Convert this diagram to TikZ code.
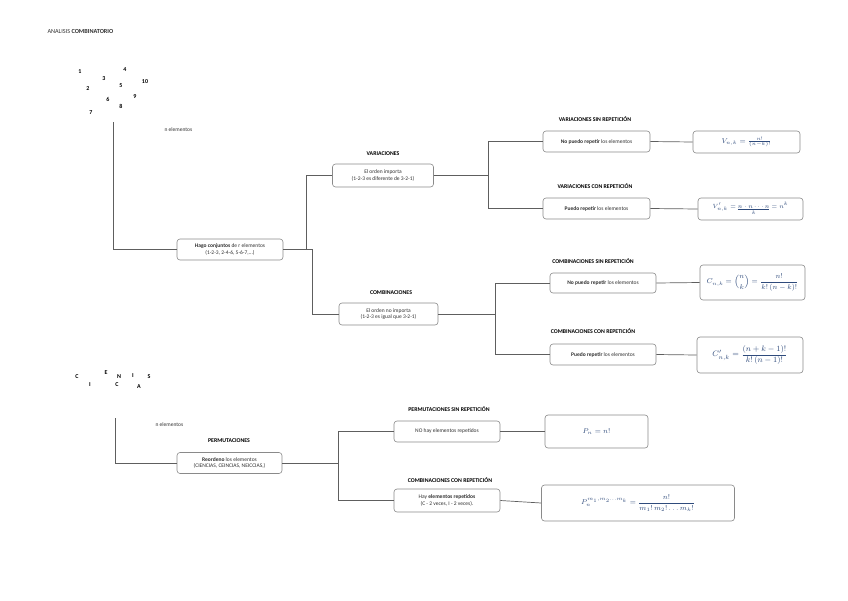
\documentclass[tikz,border=0pt]{standalone}
\usepackage[no-math]{fontspec}
\setmainfont{Carlito}
\usepackage{amsmath}
\usepackage{tikz}
\usetikzlibrary{positioning}
\definecolor{linea}{HTML}{5E5E5E}
\definecolor{borde}{HTML}{8A8A8A}
\definecolor{formula}{HTML}{2F4B7C}
\definecolor{texto}{HTML}{303030}

\begin{document}
\begin{tikzpicture}[x=1pt, y=-1pt, font=\fontsize{5.5}{6.6}\selectfont, text=texto,
  caja/.style={draw=borde, line width=0.6pt, rounded corners=3pt, fill=white, align=center, inner sep=1pt, minimum width=106pt, minimum height=21pt},
  form/.style={caja, text=formula, font=\fontsize{7.5}{9}\selectfont},
  rotulo/.style={font=\fontsize{5.8}{7}\selectfont\bfseries, text=black},
  cifra/.style={font=\fontsize{6}{7}\selectfont\bfseries, text=black},
  conector/.style={draw=linea, line width=0.7pt}]
  \useasboundingbox (0,0) rectangle (848,600);

  % Titulo
  \node[anchor=west, font=\fontsize{6.2}{7}\selectfont] (titulo) at (44,31) {ANALISIS \textbf{COMBINATORIO}};

  % Elementos sueltos
  \node[cifra] (c1) at (80,72) {1};
  \node[cifra] (c4) at (125,70) {4};
  \node[cifra] (c3) at (104,79) {3};
  \node[cifra] (c10) at (145,82) {10};
  \node[cifra] (c2) at (88,89) {2};
  \node[cifra] (c5) at (121,86) {5};
  \node[cifra] (c9) at (135,97) {9};
  \node[cifra] (c6) at (108,99) {6};
  \node[cifra] (c8) at (121,106) {8};
  \node[cifra] (c7) at (91,113) {7};
  \node[anchor=west] (nelem) at (161,130) {n elementos};
  \coordinate (inicio) at (113,122);

  % Hago conjuntos
  \node[caja] (hago) at (230,249.5) {{\bfseries Hago conjuntos} de r elementos\\(1-2-3, 2-4-6, 5-6-7,...)};
  \draw[conector] (inicio) |- (hago.west);

  % Variaciones
  \node[caja, minimum width=101pt, minimum height=23pt] (var) at (383,175.5) {El orden importa\\(1-2-3 es diferente de 3-2-1)};
  \node[rotulo] (varrot) at (383,154) {VARIACIONES};
  \coordinate (rama1) at (306,249.5);
  \draw[conector] (hago.east) -- (rama1) |- (var.west);

  % Combinaciones
  \node[caja, minimum width=99pt, minimum height=22pt] (comb) at (388.5,314) {El orden no importa\\(1-2-3 es igual que 3-2-1)};
  \node[rotulo] (combrot) at (391,293) {COMBINACIONES};
  \coordinate (rama2) at (312,249.5);
  \draw[conector] (hago.east) -- (rama2) |- (comb.west);

  % Variaciones sin / con repeticion
  \node[caja, minimum width=107pt] (vsr) at (596.5,141.5) {{\bfseries No puedo repetir} los elementos};
  \node[rotulo] (vsrrot) at (595,119) {VARIACIONES SIN REPETICIÓN};
  \node[form, minimum width=107pt, minimum height=22pt] (vsrf) at (746.5,142) {$V_{n,k}=\frac{n!}{(n-k)!}$};
  \node[caja, minimum width=107pt] (vcr) at (596.5,208.5) {{\bfseries Puedo repetir} los elementos};
  \node[rotulo] (vcrrot) at (595,186) {VARIACIONES CON REPETICIÓN};
  \node[form, font=\fontsize{6.5}{8}\selectfont, minimum width=105pt, minimum height=22pt] (vcrf) at (750.5,209) {$V'_{n,k}=\underset{k}{\underline{n\cdot n\cdots n}}=n^k$};
  \coordinate (rama3) at (488,175.5);
  \draw[conector] (var.east) -- (rama3) |- (vsr.west);
  \draw[conector] (rama3) |- (vcr.west);
  \draw[conector] (vsr.east) -- (vsrf.west);
  \draw[conector] (vcr.east) -- (vcrf.west);

  % Combinaciones sin / con repeticion
  \node[caja, minimum height=20pt] (csr) at (603,283) {{\bfseries No puedo repetir} los elementos};
  \node[rotulo] (csrrot) at (593,261) {COMBINACIONES SIN REPETICIÓN};
  \node[form, minimum width=105pt, minimum height=35pt] (csrf) at (752.5,282.5) {$C_{n,k}=\dbinom{n}{k}=\dfrac{n!}{k!\,(n-k)!}$};
  \node[caja] (ccr) at (603,354.5) {{\bfseries Puedo repetir} los elementos};
  \node[rotulo] (ccrrot) at (593,331) {COMBINACIONES CON REPETICIÓN};
  \node[form, font=\fontsize{8}{9.5}\selectfont, minimum height=36pt] (ccrf) at (750,355) {$C'_{n,k}=\dfrac{(n+k-1)!}{k!\,(n-1)!}$};
  \coordinate (rama4) at (495,314);
  \draw[conector] (comb.east) -- (rama4) |- (csr.west);
  \draw[conector] (rama4) |- (ccr.west);
  \draw[conector] (csr.east) -- (csrf.west);
  \draw[conector] (ccr.east) -- (ccrf.west);

  % Letras de CIENCIAS
  \node[cifra] (l1) at (77,377) {C};
  \node[cifra] (l2) at (90,385) {I};
  \node[cifra] (l3) at (106,373) {E};
  \node[cifra] (l4) at (119,377) {N};
  \node[cifra] (l5) at (117,385) {C};
  \node[cifra] (l6) at (133,376) {I};
  \node[cifra] (l7) at (139,387) {A};
  \node[cifra] (l8) at (149,377) {S};
  \node[anchor=west] (nelem2) at (152,425) {n elementos};
  \coordinate (inicio2) at (115,418);

  % Permutaciones
  \node[caja, minimum width=105pt] (reord) at (229.5,463) {{\bfseries Reordeno} los elementos\\(CIENCIAS, CEINCIAS, NEICCIAS,)};
  \node[rotulo] (permrot) at (229,441) {PERMUTACIONES};
  \draw[conector] (inicio2) |- (reord.west);

  \node[caja] (psr) at (447,431.5) {NO hay elementos repetidos};
  \node[rotulo] (psrrot) at (449,409) {PERMUTACIONES SIN REPETICIÓN};
  \node[form, minimum width=103pt, minimum height=33pt] (psrf) at (596.5,431.5) {$P_n=n!$};
  \node[caja, minimum height=23pt] (pcr) at (447,500.5) {Hay {\bfseries elementos repetidos}\\(C - 2 veces, I - 2 veces).};
  \node[rotulo] (pcrrot) at (450,480) {COMBINACIONES CON REPETICIÓN};
  \node[form, minimum width=193pt, minimum height=36pt] (pcrf) at (638,503) {$P_n^{m_1,m_2\ldots m_k}=\dfrac{n!}{m_1!\,m_2!\ldots m_k!}$};
  \coordinate (rama5) at (338,463);
  \draw[conector] (reord.east) -- (rama5) |- (psr.west);
  \draw[conector] (rama5) |- (pcr.west);
  \draw[conector] (psr.east) -- (psrf.west);
  \draw[conector] (pcr.east) -- (pcrf.west);
\end{tikzpicture}
\end{document}
